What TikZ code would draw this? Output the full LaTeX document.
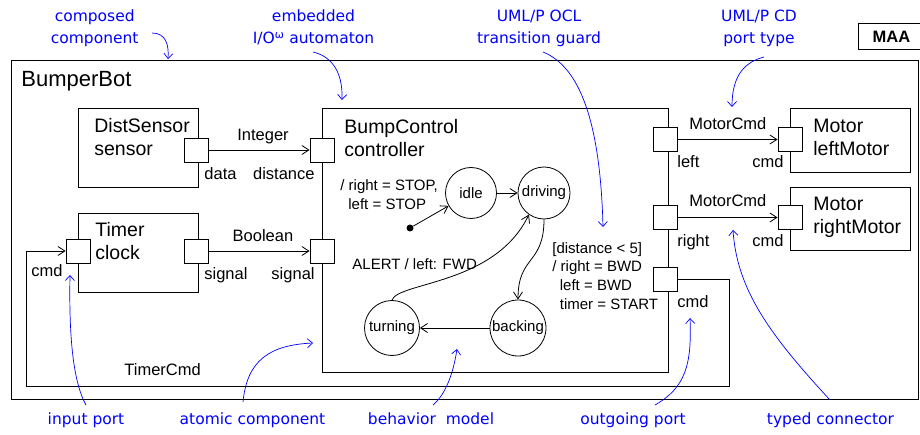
\documentclass[tikz,border=0pt]{standalone}
\usepackage{fontspec}
\setmainfont{Liberation Sans}
\newfontfamily\notefont{DejaVu Sans}
\usetikzlibrary{arrows.meta,positioning,calc}

\tikzset{
  comp/.style={draw, rectangle, anchor=north west, inner sep=0},
  port/.style={draw, fill=white, minimum size=24, inner sep=0},
  state/.style={draw, circle, minimum size=52, inner sep=0, font=\fontsize{15}{18}\selectfont},
  compname/.style={anchor=base west, inner sep=0, align=left, font=\fontsize{19.5}{23}\selectfont},
  lbl/.style={inner sep=0, font=\fontsize{16.5}{19}\selectfont},
  act/.style={inner sep=0, align=left, font=\fontsize{15}{18.7}\selectfont},
  conn/.style={-{Straight Barb[length=7pt,width=9pt]}},
  note/.style={inner sep=0, align=center, text=blue, font=\notefont\fontsize{15.5}{21.6}\selectfont},
  notearrow/.style={blue, line width=0.7pt, -{Straight Barb[length=5pt,width=9pt]}},
}

\begin{document}
\begin{tikzpicture}[x=1pt, y=-1pt, line width=0.8pt]
    \useasboundingbox (0,0) rectangle (920,435);

    % components
    \node[comp, minimum width=907, minimum height=339] (bot) at (11,60) {};
    \node[comp, minimum width=120, minimum height=79] (sensor) at (78,108) {};
    \node[comp, minimum width=120, minimum height=79] (clock) at (78,213) {};
    \node[comp, minimum width=346, minimum height=264] (ctrl) at (322,108) {};
    \node[comp, minimum width=120, minimum height=64] (lmotor) at (790,108) {};
    \node[comp, minimum width=120, minimum height=63] (rmotor) at (790,187) {};
    \node[draw, minimum width=66, minimum height=26, inner sep=0, anchor=north west,
          font=\bfseries\fontsize{16.5}{19}\selectfont] (maa) at (858,23) {MAA};

    % names (base = last line)
    \node[compname, font=\fontsize{22}{26}\selectfont] (bottxt) at (21,87) {BumperBot};
    \node[compname] (sensortxt) at (94,156) {DistSensor\\sensor};
    \node[compname] (clocktxt) at (95,260) {Timer\\clock};
    \node[compname] (ctrltxt) at (344,157) {BumpControl\\controller};
    \node[compname] (lmotortxt) at (813,156) {Motor\\leftMotor};
    \node[compname] (rmotortxt) at (813,234) {Motor\\rightMotor};

    % ports
    \node[port] (data) at (196,150) {};
    \node[port] (dist) at (322,150) {};
    \node[port] (clockcmd) at (78,251) {};
    \node[port] (clocksig) at (196,251) {};
    \node[port] (ctrlsig) at (322,251) {};
    \node[port] (left) at (665,139.5) {};
    \node[port] (right) at (665,217.5) {};
    \node[port] (ctrlcmd) at (665,279.5) {};
    \node[port] (lmcmd) at (790,139.5) {};
    \node[port] (rmcmd) at (790,217.5) {};

    % connectors
    \draw[conn] (data) -- (dist);
    \draw[conn] (clocksig) -- (ctrlsig);
    \draw[conn] (left) -- (lmcmd);
    \draw[conn] (right) -- (rmcmd);
    \coordinate (loopR) at (729,386);
    \coordinate (loopL) at (26,386);
    \draw[conn] (ctrlcmd.east) -| (loopR) -- (loopL) |- (clockcmd.west);

    \node[lbl, anchor=base] (inttxt) at (263,140.7) {Integer};
    \node[lbl, anchor=base west] (datatxt) at (204,180) {data};
    \node[lbl, anchor=base east] (disttxt) at (315,180) {distance};
    \node[lbl, anchor=base] (booltxt) at (263,241.7) {Boolean};
    \node[lbl, anchor=base west] (sigtxt) at (204,280) {signal};
    \node[lbl, anchor=base east] (sigintxt) at (315,280) {signal};
    \node[lbl, anchor=base west] (cmdtxt) at (31,276.7) {cmd};
    \node[lbl, anchor=base west] (tcmdtxt) at (124,375.7) {TimerCmd};
    \node[lbl, anchor=base west] (mcmdtxt) at (689,130) {MotorCmd};
    \node[lbl, anchor=base west] (lefttxt) at (677,168) {left};
    \node[lbl, anchor=base west] (lcmdtxt) at (752,168) {cmd};
    \node[lbl, anchor=base west] (mcmdtxt2) at (689,206.7) {MotorCmd};
    \node[lbl, anchor=base west] (righttxt) at (677,246.7) {right};
    \node[lbl, anchor=base west] (rcmdtxt) at (752,246.7) {cmd};
    \node[lbl, anchor=base west] (ocmdtxt) at (677,308) {cmd};

    % automaton
    \node[state, minimum size=51] (idle) at (471,193) {idle};
    \node[state] (driving) at (544,193) {driving};
    \node[state, minimum size=55] (turning) at (392,328) {turning};
    \node[state, minimum size=56] (backing) at (518,328) {backing};
    \node[circle, fill, inner sep=0, minimum size=7] (init) at (410,228) {};

    \draw[conn] (init) -- (idle);
    \draw[conn] (idle) -- (driving);
    \draw[conn] (driving.south) .. controls (544,265) and (518,255) .. (backing.north);
    \draw[conn] (backing) -- (turning);
    \draw[conn] (turning.north) .. controls (398,282) and (495,285) .. (driving.235);

    \node[act, anchor=base west] (inittxt) at (340,209.3) {/ right = STOP,\\\hspace{8pt}left = STOP};
    \node[act, anchor=base west] (alerttxt) at (352,270) {ALERT / left: FWD};
    \node[act, anchor=base west] (guardtxt) at (552,309.3)
        {[distance < 5]\\/ right = BWD\\\hspace{7.5pt}left = BWD\\\hspace{7.5pt}timer = START};

    % annotations
    \node[note, anchor=base] (n1) at (94.7,43.3) {composed\\component};
    \node[note, anchor=base] (n2) at (313.5,43.3) {embedded\\I/O\textsuperscript{ω} automaton};
    \node[note, anchor=base] (n3) at (539,43.3) {UML/P OCL\\transition guard};
    \node[note, anchor=base] (n4) at (759,43.3) {UML/P CD\\port type};
    \node[note, anchor=base] (n5) at (86,424) {input port};
    \node[note, anchor=base] (n6) at (252.5,424) {atomic component};
    \node[note, anchor=base] (n7) at (431,424) {behavior\ \ model};
    \node[note, anchor=base] (n8) at (633,424) {outgoing port};
    \node[note, anchor=base] (n9) at (830.5,424) {typed connector};

    \coordinate (a1) at (152,33);   \coordinate (b1) at (168,59);
    \coordinate (a2) at (313,52);   \coordinate (b2) at (342,100);
    \coordinate (a3) at (543,52);   \coordinate (b3) at (603,227);
    \coordinate (a4) at (764,57);   \coordinate (b4) at (732,107);
    \coordinate (a5) at (86,405);   \coordinate (b5) at (70,275);
    \coordinate (a6) at (243,402);  \coordinate (b6) at (313,343);
    \coordinate (a7) at (433,405);  \coordinate (b7) at (457,349);
    \coordinate (a8) at (655,405);  \coordinate (b8) at (690,318);
    \coordinate (a9) at (830,400);  \coordinate (b9) at (733,230);
    \draw[notearrow] (a1) .. controls (166,33) and (169,45) .. (b1);
    \draw[notearrow] (a2) .. controls (330,56) and (343,70) .. (b2);
    \draw[notearrow] (a3) .. controls (575,65) and (600,110) .. (b3);
    \draw[notearrow] (a4) .. controls (745,62) and (732,75) .. (b4);
    \draw[notearrow] (a5) .. controls (72,380) and (69,330) .. (b5);
    \draw[notearrow] (a6) .. controls (247,360) and (270,345) .. (b6);
    \draw[notearrow] (a7) .. controls (445,395) and (453,375) .. (b7);
    \draw[notearrow] (a8) .. controls (685,388) and (692,365) .. (b8);
    \draw[notearrow] (a9) .. controls (770,335) and (737,290) .. (b9);
\end{tikzpicture}
\end{document}
